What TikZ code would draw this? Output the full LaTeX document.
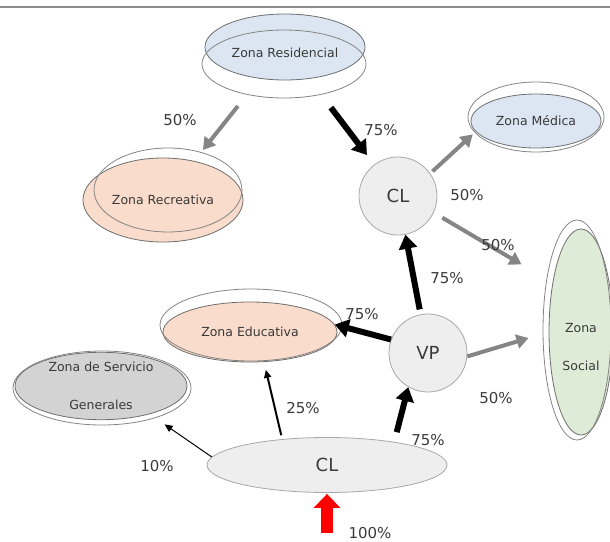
\documentclass[tikz,border=0pt]{standalone}
\usepackage{fontspec}
\setmainfont{DejaVu Sans}
\usepackage{tikz}
\usetikzlibrary{shapes.geometric,arrows.meta}
\definecolor{cAzul}{HTML}{DCE6F2}
\definecolor{cDurazno}{HTML}{F9DCCB}
\definecolor{cVerde}{HTML}{DEEBD6}
\definecolor{cGris}{HTML}{D3D3D3}
\definecolor{cCirc}{HTML}{EEEEEE}
\definecolor{cBorde}{HTML}{6E6E6E}
\definecolor{cFlecha}{HTML}{858585}
\definecolor{cTexto}{HTML}{3A3A3A}
\tikzset{
  zona/.style     = {ellipse, draw=cBorde, fill=#1, line width=0.8pt, inner sep=0pt,
                     align=center, text=cTexto, font=\fontsize{12.5}{15}\selectfont},
  contorno/.style = {draw=cBorde!85, line width=0.8pt},
  circ/.style     = {circle, draw=cBorde!60, fill=cCirc, line width=0.8pt, minimum size=#1,
                     inner sep=0pt, text=cTexto, font=\fontsize{18}{20}\selectfont},
  circ/.default   = 78pt,
  fn/.style       = {-{Triangle[length=14pt,width=18pt]}, line width=6pt, draw=black},
  fg/.style       = {-{Triangle[length=12pt,width=14pt]}, line width=4pt, draw=cFlecha},
  ff/.style       = {-{Triangle[length=8pt,width=7pt]}, line width=#1, draw=black},
  fr/.style       = {-{Triangle[length=14pt,width=26pt]}, line width=12pt, draw=red},
  pct/.style      = {font=\fontsize{15}{17}\selectfont, text=cTexto, inner sep=1pt},
}
\begin{document}
\begin{tikzpicture}[x=1pt,y=-1pt]
  \useasboundingbox (0,0) rectangle (610,541);
  \draw[line width=2pt, cBorde!80] (0,6.5) -- (610,6.5);

  % zonas
  \node[zona=cAzul, minimum width=160pt, minimum height=66pt, text height=21pt] (res) at (285,47) {Zona Residencial};
  \node[zona=cDurazno, minimum width=160pt, minimum height=84pt] (rec) at (163,200) {Zona Recreativa};
  \node[zona=cAzul, minimum width=130pt, minimum height=54pt] (med) at (536,121) {Zona Médica};
  \node[zona=cVerde, minimum width=64pt, minimum height=206pt] (soc) at (581,332) {{}\\[24pt]Zona\\[23pt]Social};
  \node[zona=cDurazno, minimum width=174pt, minimum height=60pt] (edu) at (250,332) {Zona Educativa};
  \node[zona=cGris, minimum width=172pt, minimum height=66pt] (serv) at (101,386) {Zona de Servicio\\[23pt]Generales};
  \node[circ] (clT) at (398,196) {CL};
  \node[circ] (vp) at (428,353) {VP};
  \node[circ, ellipse, minimum width=240pt, minimum height=55pt] (clB) at (327,465) {CL};
  \coordinate (entra) at (327,533);

  % contornos
  \draw[contorno] (284,64) ellipse (82 and 34);
  \draw[contorno] (168,190) ellipse (74 and 42);
  \draw[contorno] (536,117) ellipse (68 and 35);
  \draw[contorno] (577,330) ellipse (34 and 110);
  \draw[contorno] (251,325) ellipse (91 and 36);
  \draw[contorno] (102,388) ellipse (89 and 37);

  % flechas
  \draw[fg, shorten <=35pt, shorten >=14pt] (res) -- (rec);
  \draw[fn, shorten <=36pt, shorten >=12pt] (res) -- (clT);
  \draw[fg, shorten <=3pt, shorten >=4pt] (clT.35) -- (med.190);
  \draw[fg, shorten <=10pt, shorten >=36pt] (clT.-25) -- (soc.120);
  \draw[fn, shorten <=5pt] (vp) -- (clT);
  \draw[fn] (vp.160) -- (edu.5);
  \draw[fg, shorten >=21pt] (vp.-5) -- (soc.180);
  \draw[fn, shorten <=10pt] (clB.19) -- (vp.240);
  \draw[ff=2pt, shorten <=4pt, shorten >=8pt] (clB.150) -- (edu.-65);
  \draw[ff=1pt, shorten >=18pt] (clB.176) -- (serv.-30);
  \draw[fr, shorten >=1pt] (entra) -- (clB);

  % porcentajes
  \node[pct] (p1) at (180,120) {50\%};
  \node[pct] (p2) at (381,130) {75\%};
  \node[pct] (p3) at (467,195) {50\%};
  \node[pct] (p4) at (498,245) {50\%};
  \node[pct] (p5) at (447,278) {75\%};
  \node[pct] (p6) at (362,314) {75\%};
  \node[pct] (p7) at (496,398) {50\%};
  \node[pct] (p8) at (428,440) {75\%};
  \node[pct] (p9) at (303,408) {25\%};
  \node[pct] (p10) at (157,466) {10\%};
  \node[pct] (p11) at (370,533) {100\%};
\end{tikzpicture}
\end{document}
